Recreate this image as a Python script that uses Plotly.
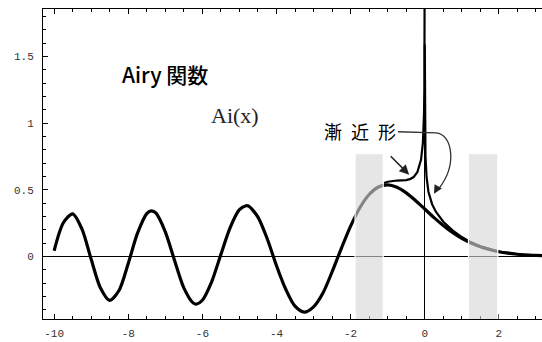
import plotly.graph_objects as go

# Ai(x) values
ai_x = [-10, -9.75, -9.5, -9.25, -9.0, -8.75, -8.5, -8.25, -8.0, -7.75, -7.5, -7.37, -7.25, -7.0,
        -6.75, -6.5, -6.25, -6.16, -6.0, -5.75, -5.5, -5.25, -5.0, -4.82, -4.75, -4.5, -4.25, -4.0,
        -3.75, -3.5, -3.25, -3.0, -2.75, -2.5, -2.25, -2.0, -1.75, -1.5, -1.25, -1.0, -0.75,
        -0.5, -0.25, 0.0, 0.25, 0.5, 0.75, 1.0, 1.25, 1.5, 1.75, 2.0, 2.25, 2.5, 2.75, 3.0, 3.25]
ai_y = [0.042, 0.252, 0.319, 0.206, -0.022, -0.237, -0.330, -0.256, -0.053, 0.174, 0.321, 0.342, 0.324, 0.184,
        -0.031, -0.236, -0.349, -0.358, -0.329, -0.191, 0.015, 0.216, 0.350, 0.380, 0.377, 0.295, 0.132, -0.070,
        -0.247, -0.374, -0.419, -0.379, -0.277, -0.117, 0.060, 0.227, 0.365, 0.464, 0.520, 0.536, 0.518,
        0.476, 0.419, 0.355, 0.291, 0.232, 0.179, 0.135, 0.100, 0.072, 0.051, 0.035, 0.024, 0.016, 0.010, 0.007, 0.004]

# asymptotic form, x < 0
asym_left_x = [-1.1, -1.0, -0.75, -0.5, -0.4, -0.3, -0.2, -0.1, -0.05, -0.03, -0.02, -0.01, -0.005, -0.002, -0.001]
asym_left_y = [0.551, 0.560, 0.569, 0.572, 0.579, 0.595, 0.631, 0.724, 0.850, 0.962, 1.062, 1.263, 1.502, 1.888, 2.24]

# asymptotic form, x > 0
asym_right_x = [0.001, 0.002, 0.005, 0.01, 0.02, 0.05, 0.1, 0.2, 0.3, 0.5, 0.75, 1.0, 1.25, 1.5, 2.0, 2.5, 3.0, 3.25]
asym_right_y = [1.59, 1.334, 1.061, 0.891, 0.749, 0.592, 0.485, 0.390, 0.335, 0.260, 0.195, 0.145, 0.105, 0.075, 0.036, 0.016, 0.007, 0.005]

x_tick_vals = [-10, -8, -6, -4, -2, 0, 2]
x_tick_text = ["-10", "-8", "-6", "-4", "-2", "0", "2"]
y_tick_vals = [0, 0.5, 1, 1.5]
y_tick_text = ["0", "0.5", "1", "1.5"]

band_ranges = [(-1.88, -1.12), (1.18, 1.97)]

fig = go.Figure()
fig.add_trace(go.Scatter(x=ai_x, y=ai_y, mode="lines",
                         line=dict(color="black", width=3.2, shape="spline", smoothing=0.8),
                         hoverinfo="skip", showlegend=False))
fig.add_trace(go.Scatter(x=asym_left_x, y=asym_left_y, mode="lines",
                         line=dict(color="black", width=2.2), hoverinfo="skip", showlegend=False))
fig.add_trace(go.Scatter(x=asym_right_x, y=asym_right_y, mode="lines",
                         line=dict(color="black", width=2.2), hoverinfo="skip", showlegend=False))

shapes = []
for x0, x1 in band_ranges:
    shapes.append(dict(type="rect", xref="x", yref="y", x0=x0, x1=x1, y0=-0.48, y1=0.77,
                       fillcolor="rgba(215,215,215,0.62)", line=dict(color="white", width=1.2),
                       layer="above"))
# curved arrow line
shapes.append(dict(type="path", xref="x", yref="y",
                   path="M -0.72,0.935 L 0.305,0.927 C 0.736,0.920 0.898,0.688 0.37,0.505",
                   line=dict(color="#333333", width=1.3), layer="above"))

annotations = [
    dict(x=-7.0, y=1.37, xref="x", yref="y", text="Airy 関数", showarrow=False,
         font=dict(family="Noto Sans CJK JP", size=21, color="black", weight=500)),
    dict(x=-5.12, y=1.055, xref="x", yref="y", text="Ai(x)", showarrow=False,
         font=dict(family="Liberation Serif", size=22, color="#222222")),
    dict(x=-1.745, y=0.943, xref="x", yref="y", text="漸\u2002近\u2002形", showarrow=False,
         font=dict(family="Noto Sans CJK JP", size=18, color="black")),
    dict(x=-0.42, y=0.613, xref="x", yref="y", text="", showarrow=True, ax=-20, ay=-20,
         arrowhead=2, arrowsize=1.3, arrowwidth=1.5, arrowcolor="#222222", standoff=0),
    dict(x=0.25, y=0.47, xref="x", yref="y", text="", showarrow=True, ax=4, ay=-7,
         arrowhead=2, arrowsize=1.3, arrowwidth=1.3, arrowcolor="#222222", standoff=0),
]

tick_font = dict(family="Liberation Mono", size=11, color="#333333")
fig.update_layout(
    width=542, height=342,
    margin=dict(l=43, r=0, t=9, b=23),
    paper_bgcolor="white", plot_bgcolor="white",
    shapes=shapes, annotations=annotations,
    xaxis=dict(range=[-10.3, 3.164], showgrid=False, zeroline=True, zerolinecolor="black", zerolinewidth=1,
               showline=True, linecolor="black", linewidth=1, mirror="ticks",
               ticks="inside", ticklen=5, tickcolor="black", tickmode="array",
               tickvals=x_tick_vals, ticktext=x_tick_text, tickfont=tick_font, ticklabelstandoff=4,
               minor=dict(tickmode="linear", tick0=0, dtick=0.5, ticks="inside", ticklen=3, tickcolor="black")),
    yaxis=dict(range=[-0.47, 1.856], showgrid=False, zeroline=True, zerolinecolor="black", zerolinewidth=1,
               showline=True, linecolor="black", linewidth=1, mirror=False,
               ticks="inside", ticklen=5, tickcolor="black", tickmode="array",
               tickvals=y_tick_vals, ticktext=y_tick_text, tickfont=tick_font, ticklabelstandoff=6,
               minor=dict(tickmode="linear", tick0=0, dtick=0.1, ticks="inside", ticklen=3, tickcolor="black")),
)

fig.write_html("out.html", config={"displayModeBar": False},
               post_script="document.body.style.margin='0';document.body.style.overflow='hidden';")
